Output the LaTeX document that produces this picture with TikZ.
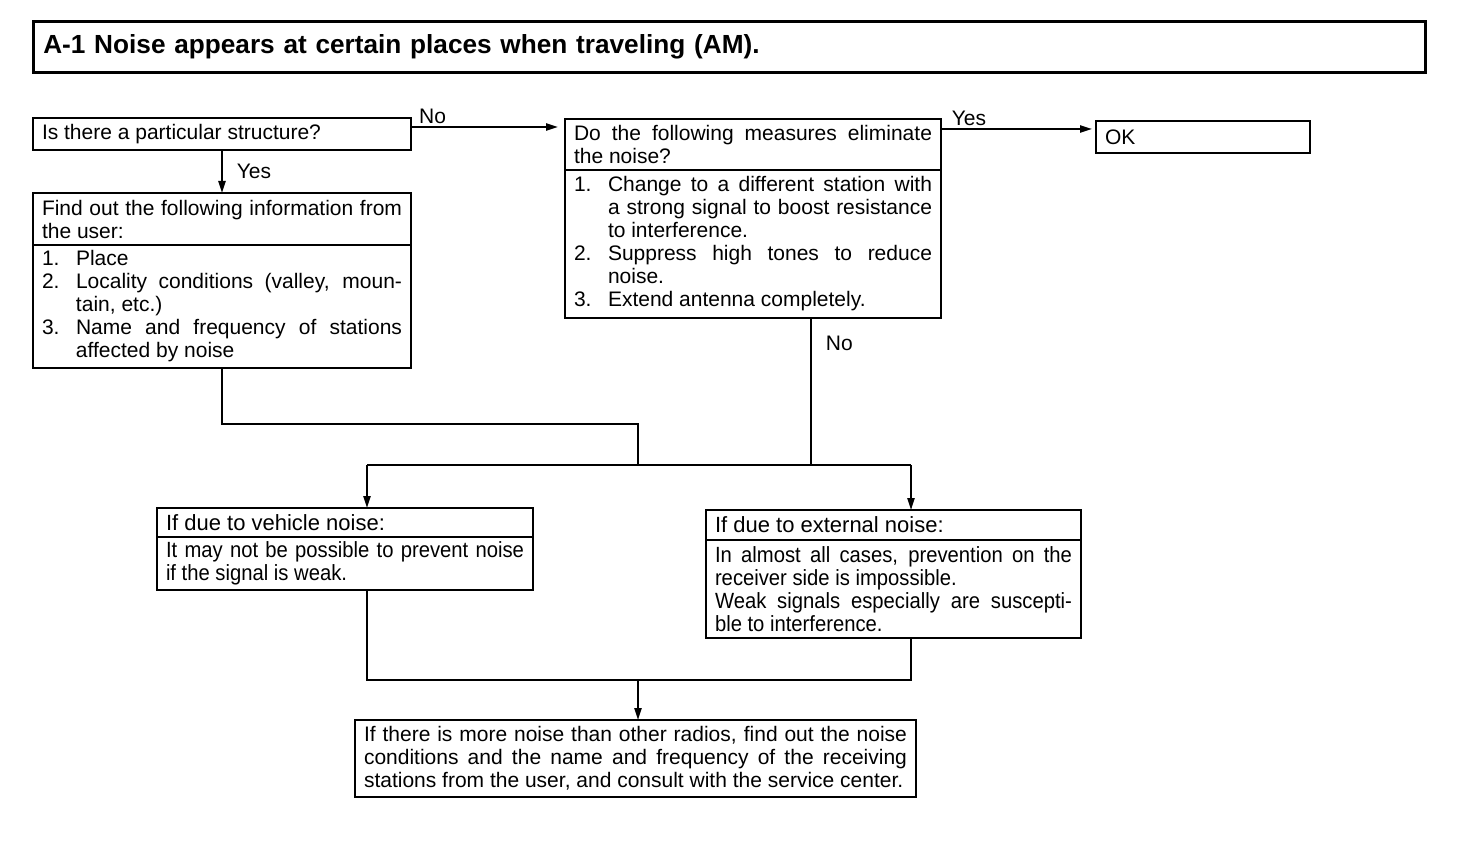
\documentclass[tikz,border=0pt]{standalone}
\usepackage{fontspec}
\setmainfont{Liberation Sans}
\newfontfamily\condfont{Liberation Sans}[FakeStretch=0.92]
\usetikzlibrary{arrows.meta,positioning}
\newcommand\boxfont{\fontsize{10.5}{11.5}\selectfont}
\newcommand\headfont{\fontsize{11}{11.5}\selectfont}
\newcommand\condbox{\condfont\fontsize{11}{11.5}\selectfont}
\newcommand\itm[2]{\hangindent=17pt\hangafter=1\noindent\makebox[17pt][l]{#1}#2\par}

\begin{document}
\begin{tikzpicture}[x=0.5pt,y=-0.5pt,
  lin/.style={line width=0.9pt},
  arr/.style={lin,-{Triangle[length=6pt,width=3.6pt]}},
  box/.style={draw,line width=0.9pt,anchor=north west,outer sep=0pt,inner xsep=4.5pt,inner ysep=1.5pt,
              align=justify,font=\boxfont},
  hbox/.style={box,font=\headfont},
  cbox/.style={box,font=\condbox},
  ttl/.style={draw,line width=1.3pt,anchor=north west,minimum width=696pt,minimum height=25.5pt,
              text width=686pt,inner xsep=5pt,align=left,font=\fontsize{13.1}{15}\selectfont\bfseries},
  lbl/.style={inner sep=1pt,font=\boxfont},
]
\useasboundingbox (0,0) rectangle (1472,844);
\node[ttl] (title) at (32,20) {A-1 Noise appears at certain places when traveling (AM).};
% first column
\node[box,text width=180pt,minimum height=16pt] (qstruct) at (33,118) {Is there a particular structure?};
\node[box,text width=180pt,minimum height=26pt] (bhdr) at (33,193)
  {Find out the following information from\linebreak the user:};
\node[box,text width=180pt,minimum height=61.5pt,below=0pt of bhdr] (blst)
  {\itm{1.}{Place}\itm{2.}{Locality conditions (valley, moun-\linebreak tain, etc.)}%
   \itm{3.}{Name and frequency of stations\linebreak affected by noise}};
% measures
\node[box,text width=179pt,minimum height=25.5pt] (chdr) at (565,119)
  {Do the following measures eliminate\linebreak the noise?};
\node[box,text width=179pt,minimum height=74pt,below=0pt of chdr] (clst)
  {\itm{1.}{Change to a different station with\linebreak a strong signal to boost resistance\linebreak to interference.}%
   \itm{2.}{Suppress high tones to reduce\linebreak noise.}\itm{3.}{Extend antenna completely.}};
\node[box,text width=98pt,minimum height=16pt,align=left] (ok) at (1096,121) {OK};
% causes
\node[hbox,text width=179pt,minimum height=14.5pt] (dhdr) at (157,508) {If due to vehicle noise:};
\node[cbox,text width=179pt,minimum height=26.5pt,below=0pt of dhdr] (dtxt)
  {It may not be possible to prevent noise\linebreak if the signal is weak.};
\node[hbox,text width=178.5pt,minimum height=15pt] (ehdr) at (706,510) {If due to external noise:};
\node[cbox,text width=178.5pt,minimum height=49pt,below=0pt of ehdr] (etxt)
  {In almost all cases, prevention on the\linebreak receiver side is impossible.\par
   Weak signals especially are suscepti-\linebreak ble to interference.};
\node[box,text width=271.5pt,minimum height=38.5pt] (fin) at (355,720)
  {If there is more noise than other radios, find out the noise\linebreak conditions and the name and
   frequency of the receiving\linebreak stations from the user, and consult with the service center.};
\coordinate (j1) at (638,424);
\coordinate (fork) at (638,465);
\coordinate (dtop) at (367,465);
\coordinate (etop) at (911,465);
\coordinate (jb) at (638,680);
% connectors
\draw[arr,shorten >=3.5pt] ([yshift=3.5pt]qstruct.east) -- node[lbl,pos=0.14,above]{No}
  ([yshift=3.5pt]qstruct.east -| chdr.west);
\draw[arr] (qstruct.south) -- node[lbl,right=6pt]{Yes} (bhdr.north);
\draw[arr,shorten >=2pt] ([yshift=7.75pt]chdr.east) -- node[lbl,pos=0.18,above]{Yes}
  ([yshift=7.75pt]chdr.east -| ok.west);
\draw[lin] (blst.south) |- (j1) -- (fork);
\draw[lin] ([xshift=29pt]clst.south) -- node[lbl,pos=0.17,right=6pt]{No} ([xshift=29pt]clst.south |- fork);
\draw[lin] (dtop) -- (etop);
\draw[arr] (dtop) -- (dtop |- dhdr.north);
\draw[arr] (etop) -- (etop |- ehdr.north);
\draw[lin] (dtop |- dtxt.south) -- (dtop |- jb) -- (etop |- jb) -- (etop |- etxt.south);
\draw[arr] (jb) -- (jb |- fin.north);
\end{tikzpicture}
\end{document}
